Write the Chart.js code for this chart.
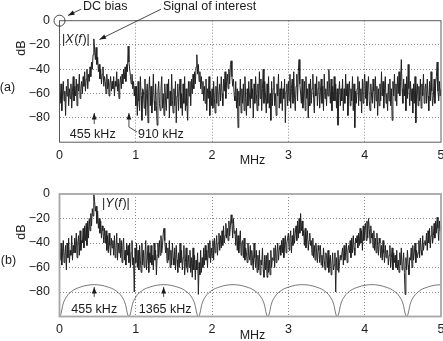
<!DOCTYPE html>
<html>
<head>
<meta charset="utf-8">
<script src="https://cdn.jsdelivr.net/npm/chart.js@4.4.0/dist/chart.umd.min.js"></script>
<style>
  html, body { margin: 0; padding: 0; background: #fff; }
  #wrap { position: relative; width: 443px; height: 341px; }
  .panel { position: absolute; left: 0; width: 443px; }
  #panel-a { top: 0; height: 170px; }
  #panel-b { top: 170px; height: 171px; }
</style>
</head>
<body>
<div id="wrap">
  <div class="panel" id="panel-a"><canvas id="chart-a"></canvas></div>
  <div class="panel" id="panel-b"><canvas id="chart-b"></canvas></div>
</div>
<script>
/* ============================================
   Spectra |X(f)| and |Y(f)| — two stacked panels
   ============================================ */

// frequency bins are 0.01 MHz apart, 0 .. 5 MHz
const BIN_MHZ = 0.01;
const FREQ_TICKS = [0, 1, 2, 3, 4, 5];
const DB_TICKS = [0, -20, -40, -60, -80, -100];

// panel (a): |X(f)| in dB, one row per 0.1 MHz
const xSpectrumDb = [
  -56, -68, -52, -74, -60, -50, -66, -58, -78, -54,
  -62, -48, -70, -56, -64, -52, -72, -58, -46, -66,
  -54, -62, -48, -70, -52, -58, -44, -64, -56, -50,
  -60, -46, -54, -42, -58, -48, -40, -56, -44, -50,
  -38, -46, -34, -40, -28, -15, -24, -32, -22, -36,
  -30, -42, -36, -48, -40, -52, -44, -38, -54, -46,
  -50, -60, -44, -56, -48, -62, -52, -46, -58, -50,
  -56, -46, -62, -50, -54, -42, -58, -48, -64, -52,
  -46, -56, -44, -52, -40, -48, -38, -50, -36, -42,
  -21, -34, -40, -46, -52, -44, -56, -50, -62, -54,
  -70, -54, -78, -50, -66, -74, -46, -62, -82, -56,
  -58, -72, -48, -78, -60, -52, -84, -58, -46, -70,
  -54, -76, -64, -44, -66, -74, -52, -70, -86, -58,
  -50, -68, -74, -56, -46, -72, -60, -78, -52, -66,
  -74, -52, -64, -48, -80, -58, -70, -44, -66, -76,
  -56, -70, -50, -84, -62, -52, -74, -58, -48, -72,
  -60, -78, -52, -68, -46, -74, -56, -70, -82, -50,
  -62, -50, -70, -48, -60, -44, -56, -42, -52, -38,
  -28, -44, -36, -50, -42, -56, -46, -60, -50, -66,
  -54, -68, -48, -74, -56, -64, -46, -78, -58, -70,
  -56, -72, -50, -64, -76, -54, -68, -46, -70, -60,
  -52, -66, -46, -60, -70, -48, -58, -42, -64, -50,
  -44, -56, -40, -52, -36, -33, -46, -54, -48, -62,
  -66, -50, -72, -56, -88, -58, -70, -48, -76, -56,
  -68, -52, -74, -46, -64, -78, -56, -70, -50, -62,
  -72, -48, -64, -56, -80, -52, -68, -46, -60, -74,
  -52, -70, -42, -64, -48, -74, -56, -40, -68, -50,
  -62, -76, -52, -68, -46, -72, -60, -82, -50, -70,
  -56, -46, -70, -60, -78, -52, -62, -44, -72, -56,
  -68, -50, -74, -56, -64, -48, -84, -58, -52, -70,
  -50, -66, -44, -72, -56, -48, -68, -42, -62, -74,
  -54, -44, -66, -42, -32, -52, -60, -68, -48, -72,
  -62, -50, -74, -46, -64, -56, -80, -52, -70, -48,
  -68, -56, -44, -64, -76, -52, -62, -46, -70, -56,
  -50, -72, -58, -48, -68, -54, -74, -44, -64, -56,
  -70, -50, -62, -40, -56, -68, -48, -74, -54, -66,
  -46, -66, -52, -72, -56, -86, -60, -50, -70, -56,
  -66, -48, -74, -56, -68, -44, -62, -52, -78, -58,
  -50, -70, -56, -66, -46, -74, -52, -88, -58, -68,
  -56, -46, -70, -50, -66, -56, -76, -48, -68, -52,
  -44, -64, -50, -70, -56, -46, -66, -74, -52, -62,
  -68, -48, -58, -72, -46, -66, -54, -78, -56, -70,
  -52, -66, -42, -62, -50, -72, -56, -46, -68, -60,
  -74, -52, -66, -48, -70, -56, -82, -50, -62, -44,
  -66, -52, -70, -46, -60, -42, -62, -50, -32, -56,
  -68, -48, -62, -52, -74, -46, -64, -36, -56, -70,
  -50, -66, -56, -76, -52, -68, -46, -84, -60, -52,
  -70, -54, -66, -48, -72, -52, -62, -44, -68, -56,
  -52, -68, -48, -62, -74, -50, -66, -42, -58, -70,
  -62, -48, -68, -52, -46, -34, -58, -66, -50, -62,
  -56
];

// panel (b): |Y(f)| in dB, one row per 0.1 MHz
const ySpectrumDb = [
  -44, -54, -40, -58, -48, -38, -56, -50, -42, -62,
  -40, -52, -36, -56, -46, -50, -34, -54, -42, -48,
  -36, -48, -32, -52, -40, -34, -50, -30, -46, -38,
  -40, -28, -44, -26, -38, -24, -42, -22, -36, -20,
  -30, -16, -26, -12, -18, 0, -6, -14, -10, -24,
  -14, -28, -20, -32, -22, -36, -26, -30, -40, -28,
  -40, -30, -46, -34, -48, -32, -42, -50, -36, -44,
  -38, -50, -34, -52, -44, -32, -54, -40, -48, -36,
  -52, -38, -56, -42, -36, -54, -46, -58, -40, -50,
  -42, -56, -40, -60, -48, -38, -58, -52, -80, -44,
  -56, -40, -60, -46, -62, -42, -54, -64, -40, -58,
  -46, -60, -50, -38, -62, -54, -42, -64, -48, -56,
  -42, -58, -50, -62, -40, -54, -46, -66, -50, -40,
  -52, -38, -50, -34, -48, -42, -32, -28, -38, -48,
  -40, -56, -44, -54, -38, -60, -46, -58, -40, -52,
  -58, -44, -62, -42, -54, -64, -48, -60, -40, -56,
  -46, -62, -52, -42, -66, -56, -44, -60, -64, -50,
  -60, -46, -64, -52, -68, -44, -62, -50, -70, -54,
  -62, -48, -82, -56, -66, -46, -64, -52, -60, -44,
  -58, -42, -54, -46, -60, -40, -52, -38, -56, -44,
  -52, -38, -54, -36, -48, -42, -34, -50, -40, -32,
  -46, -34, -44, -30, -42, -26, -40, -34, -24, -36,
  -28, -38, -22, -34, -26, -17, -24, -36, -20, -32,
  -30, -42, -28, -46, -34, -48, -38, -30, -50, -40,
  -38, -52, -36, -54, -44, -48, -56, -40, -50, -54,
  -42, -58, -46, -54, -62, -40, -52, -60, -46, -64,
  -50, -62, -46, -66, -54, -58, -44, -62, -68, -50,
  -62, -50, -68, -48, -64, -54, -66, -46, -60, -52,
  -54, -44, -60, -42, -56, -48, -40, -54, -46, -42,
  -50, -38, -48, -36, -52, -42, -34, -48, -40, -36,
  -32, -46, -36, -30, -48, -34, -42, -28, -40, -32,
  -26, -38, -22, -36, -20, -32, -16, -30, -22, -34,
  -30, -42, -28, -44, -36, -30, -46, -38, -32, -42,
  -38, -50, -36, -52, -42, -54, -40, -48, -56, -42,
  -46, -56, -42, -58, -50, -60, -44, -54, -62, -48,
  -50, -60, -46, -64, -54, -50, -66, -58, -48, -62,
  -58, -48, -80, -52, -62, -46, -64, -56, -50, -54,
  -54, -44, -58, -42, -54, -48, -40, -56, -46, -42,
  -48, -38, -52, -36, -48, -34, -44, -50, -36, -40,
  -34, -44, -32, -42, -28, -40, -30, -46, -26, -38,
  -30, -24, -38, -22, -36, -20, -28, -40, -26, -36,
  -32, -44, -30, -46, -36, -48, -32, -42, -50, -36,
  -40, -52, -42, -54, -38, -48, -56, -42, -52, -46,
  -46, -58, -50, -42, -60, -52, -44, -62, -48, -56,
  -50, -60, -46, -62, -54, -64, -48, -58, -44, -62,
  -58, -48, -64, -82, -52, -62, -46, -58, -66, -52,
  -54, -44, -60, -42, -54, -48, -40, -56, -46, -52,
  -48, -38, -52, -36, -46, -50, -34, -46, -40, -38,
  -42, -32, -46, -30, -40, -28, -44, -34, -26, -40,
  -34, -24, -36, -22, -32, -19, -28, -38, -22, -30,
  -26
];

// thin comb-shaped response drawn under |Y(f)|, nulls every 0.91 MHz
const combFreqMhz = [
  0, 0.018, 0.046, 0.091, 0.182, 0.273, 0.364, 0.455, 0.546, 0.637, 0.728, 0.819, 0.864, 0.892,
  0.91, 0.928, 0.956, 1.001, 1.092, 1.183, 1.274, 1.365, 1.456, 1.547, 1.638, 1.729, 1.774, 1.802,
  1.82, 1.838, 1.866, 1.911, 2.002, 2.093, 2.184, 2.275, 2.366, 2.457, 2.548, 2.639, 2.684, 2.712,
  2.73, 2.748, 2.776, 2.821, 2.912, 3.003, 3.094, 3.185, 3.276, 3.367, 3.458, 3.549, 3.594, 3.622,
  3.64, 3.658, 3.686, 3.731, 3.822, 3.913, 4.004, 4.095, 4.186, 4.277, 4.368, 4.459, 4.504, 4.532,
  4.55, 4.568, 4.596, 4.641, 4.732, 4.823, 4.914, 5.0
];
const combDb = [
  -100, -98, -90, -84, -78.5, -76, -74.5, -74, -74.5, -76, -78.5, -84, -90, -98,
  -100, -98, -90, -84, -78.5, -76, -74.5, -74, -74.5, -76, -78.5, -84, -90, -98,
  -100, -98, -90, -84, -78.5, -76, -74.5, -74, -74.5, -76, -78.5, -84, -90, -98,
  -100, -98, -90, -84, -78.5, -76, -74.5, -74, -74.5, -76, -78.5, -84, -90, -98,
  -100, -98, -90, -84, -78.5, -76, -74.5, -74, -74.5, -76, -78.5, -84, -90, -98,
  -100, -98, -90, -84, -78.5, -76, -74.5, -74
];

const INK = '#1c1c1c';
const FONT = "'Liberation Sans', Arial, Helvetica, sans-serif";
const FONT_SIZE = 12.5;

Chart.defaults.font.family = FONT;
Chart.defaults.font.size = FONT_SIZE;
Chart.defaults.color = INK;

function toPoints(dbValues) {
  return dbValues.map((db, i) => ({ x: +(i * BIN_MHZ).toFixed(3), y: db }));
}

/* ------------------------------------------
   Drawing helpers for the annotations
   ------------------------------------------ */
function text(ctx, str, x, y, align) {
  ctx.textAlign = align || 'left';
  ctx.textBaseline = 'middle';
  ctx.fillText(str, x, y);
}

// |X(f)| style label, letters in italics
function mathText(ctx, parts, x, y) {
  ctx.textAlign = 'left';
  ctx.textBaseline = 'middle';
  parts.forEach(([s, italic]) => {
    ctx.font = (italic ? 'italic ' : '') + FONT_SIZE + 'px ' + FONT;
    ctx.fillText(s, x, y);
    x += ctx.measureText(s).width + (italic ? 0.6 : 0);
  });
  ctx.font = FONT_SIZE + 'px ' + FONT;
}

// polyline, last point is the arrow tip
function arrow(ctx, pts) {
  ctx.beginPath();
  ctx.moveTo(pts[0][0], pts[0][1]);
  pts.slice(1).forEach(p => ctx.lineTo(p[0], p[1]));
  ctx.stroke();
  const [fx, fy] = pts[pts.length - 2];
  const [tx, ty] = pts[pts.length - 1];
  const a = Math.atan2(ty - fy, tx - fx);
  const len = 6.5, w = 2.4;
  ctx.beginPath();
  ctx.moveTo(tx, ty);
  ctx.lineTo(tx - len * Math.cos(a) + w * Math.sin(a), ty - len * Math.sin(a) - w * Math.cos(a));
  ctx.lineTo(tx - len * Math.cos(a) - w * Math.sin(a), ty - len * Math.sin(a) + w * Math.cos(a));
  ctx.closePath();
  ctx.fill();
}

function rotated(ctx, str, x, y) {
  ctx.save();
  ctx.translate(x, y);
  ctx.rotate(-Math.PI / 2);
  text(ctx, str, 0, 0, 'center');
  ctx.restore();
}

/* ------------------------------------------
   Axes frame (drawn over the trace like Matlab)
   ------------------------------------------ */
function framePlugin(color, width) {
  return {
    id: 'frame',
    afterDatasetsDraw(chart) {
      const { ctx, chartArea: a } = chart;
      ctx.save();
      ctx.strokeStyle = color;
      ctx.lineWidth = width;
      ctx.strokeRect(a.left, a.top, a.right - a.left, a.bottom - a.top);
      ctx.restore();
    }
  };
}

const notesA = {
  id: 'notesA',
  afterDraw(chart) {
    const { ctx, scales: { x, y }, chartArea } = chart;
    const x0 = x.getPixelForValue(0), y0 = y.getPixelForValue(0);
    const labelY = chartArea.bottom - 7.2;
    ctx.save();
    ctx.font = FONT_SIZE + 'px ' + FONT;
    ctx.fillStyle = INK;
    ctx.strokeStyle = INK;
    ctx.lineWidth = 0.8;

    // DC bias circle at (0 MHz, 0 dB)
    ctx.beginPath();
    ctx.arc(x0, y0, 5.5, 0, Math.PI * 2);
    ctx.stroke();
    arrow(ctx, [[x0 + 21.5, y0 - 11.5], [x0 + 8.5, y0 - 5.2]]);
    text(ctx, 'DC bias', x0 + 23.5, y0 - 14);

    arrow(ctx, [[x0 + 101.5, y0 - 11.5], [x0 + 40, y0 + 18.8]]);
    text(ctx, 'Signal of interest', x0 + 103.5, y0 - 14);

    mathText(ctx, [['|', false], ['X', true], ['(', false], ['f', true], [')|', false]], x0 + 2.5, y0 + 18.5);

    const f1 = x.getPixelForValue(0.455);
    arrow(ctx, [[f1, y.getPixelForValue(-85)], [f1, y.getPixelForValue(-76)]]);
    text(ctx, '455 kHz', f1 - 1.5, labelY, 'center');

    const f2 = x.getPixelForValue(0.91);
    arrow(ctx, [[f2 + 8, y.getPixelForValue(-91.5)], [f2, y.getPixelForValue(-87.5)], [f2, y.getPixelForValue(-76)]]);
    text(ctx, '910 kHz', f2 + 9, labelY);

    rotated(ctx, 'dB', 22, 48);
    text(ctx, '(a)', 7.5, 88, 'center');
    text(ctx, 'MHz', 252.5, 161, 'center');
    ctx.restore();
  }
};

const notesB = {
  id: 'notesB',
  afterDraw(chart) {
    const { ctx, scales: { x, y }, chartArea } = chart;
    const x0 = x.getPixelForValue(0), y0 = y.getPixelForValue(0);
    const labelY = chartArea.bottom - 7.2;
    ctx.save();
    ctx.font = FONT_SIZE + 'px ' + FONT;
    ctx.fillStyle = INK;
    ctx.strokeStyle = INK;
    ctx.lineWidth = 0.8;

    mathText(ctx, [['|', false], ['Y', true], ['(', false], ['f', true], [')|', false]], x0 + 42.5, y0 + 10);

    const f1 = x.getPixelForValue(0.455);
    arrow(ctx, [[f1, y.getPixelForValue(-84)], [f1, y.getPixelForValue(-76)]]);
    text(ctx, '455 kHz', f1, labelY, 'center');

    const f3 = x.getPixelForValue(1.365);
    arrow(ctx, [[f3, y.getPixelForValue(-84)], [f3, y.getPixelForValue(-76)]]);
    text(ctx, '1365 kHz', f3 + 1.5, labelY, 'center');

    rotated(ctx, 'dB', 22, 62);
    text(ctx, '(b)', 8.5, 91, 'center');
    text(ctx, 'MHz', 252.5, 166, 'center');
    ctx.restore();
  }
};

/* ------------------------------------------
   Shared panel setup
   ------------------------------------------ */
function gridColor(edges) {
  return c => (c.tick && edges.includes(c.tick.value)) ? 'rgba(0,0,0,0)' : '#8a8a8a';
}

function makePanel(id, datasets, { top, xHeight, plugins }) {
  return new Chart(document.getElementById(id), {
    type: 'line',
    data: { datasets },
    options: {
      responsive: true,
      maintainAspectRatio: false,
      animation: false,
      events: [],
      layout: { padding: { top, right: 2, left: 0, bottom: 0 } },
      plugins: { legend: { display: false }, tooltip: { enabled: false } },
      elements: { point: { radius: 0 } },
      scales: {
        x: {
          type: 'linear',
          min: 0,
          max: 5,
          afterBuildTicks: s => { s.ticks = FREQ_TICKS.map(v => ({ value: v })); },
          afterFit: s => { s.height = xHeight; s.paddingLeft = 0; s.paddingRight = 0; },
          ticks: { padding: 5.5, maxRotation: 0, autoSkip: false, color: INK },
          grid: { color: gridColor([0, 5]), lineWidth: 1, drawTicks: false },
          border: { display: false, dash: [1, 2] }
        },
        y: {
          min: -100,
          max: 0,
          afterBuildTicks: s => { s.ticks = DB_TICKS.map(v => ({ value: v })); },
          afterFit: s => { s.width = 59.5; s.paddingTop = 0; s.paddingBottom = 0; },
          ticks: {
            padding: 9.5,
            color: INK,
            callback: v => v === -100 ? '' : String(v).replace('-', '\u2212')
          },
          grid: { color: gridColor([0, -100]), lineWidth: 1, drawTicks: false },
          border: { display: false, dash: [1, 2] }
        }
      }
    },
    plugins
  });
}

makePanel('chart-a', [
  {
    data: toPoints(xSpectrumDb),
    borderColor: '#222',
    borderWidth: 1,
    tension: 0
  }
], { top: 20.7, xHeight: 27.8, plugins: [framePlugin('#5a5a5a', 1), notesA] });

makePanel('chart-b', [
  {
    data: combFreqMhz.map((f, i) => ({ x: f, y: combDb[i] })),
    borderColor: '#555',
    borderWidth: 0.8,
    cubicInterpolationMode: 'monotone'
  },
  {
    data: toPoints(ySpectrumDb),
    borderColor: '#222',
    borderWidth: 1,
    tension: 0
  }
], { top: 24, xHeight: 24.5, plugins: [framePlugin('#a6a6a6', 1.8), notesB] });
</script>
</body>
</html>
